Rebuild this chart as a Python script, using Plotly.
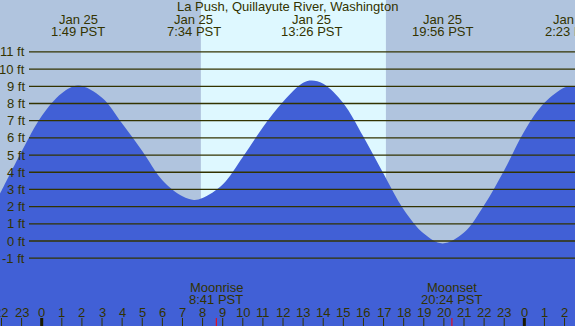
import plotly.graph_objects as go

# ---------------- data ----------------
title = "La Push, Quillayute River, Washington"
date_label = "Jan 25"

# tide curve: hours from midnight Jan 25, height in ft
tide_hours = [-2.074, -2, -1, 0, 1, 1.817, 3, 4, 5, 6, 7, 7.567, 8, 9, 10, 11, 12, 13,
              13.433, 14, 15, 16, 17, 18, 19, 19.933, 21, 22, 23, 24, 25, 26, 26.383, 26.52]
tide_feet = [2.77, 2.92, 5.2, 7.27, 8.6, 9.05, 8.34, 6.83, 5.24, 3.54, 2.6, 2.39, 2.5, 3.29,
             4.89, 6.62, 8.10, 9.2, 9.33, 9.15, 8.02, 6.07, 3.91, 1.83, 0.43, -0.14, 0.49,
             2.08, 4.12, 6.39, 8.04, 8.93, 9.02, 9.01]

extreme_labels = ["1:49 PST", "7:34 PST", "13:26 PST", "19:56 PST", "2:23 PST"]
extreme_hours = [1 + 49/60, 7 + 34/60, 13 + 26/60, 19 + 56/60, 24 + 2 + 23/60]

sun_hours = [7 + 55/60, 17 + 7/60]          # sunrise, sunset
moon_names = ["Moonrise", "Moonset"]
moon_labels = ["8:41 PST", "20:24 PST"]
moon_hours = [8 + 41/60, 20 + 24/60]

grid_feet = list(range(-1, 12))
hour_ticks = list(range(-2, 27))
hour_tick_labels = [str(h % 24) for h in hour_ticks]
midnight_ticks = [0, 24]

x_range = [-2.074, 26.52]
y_range = [-4.945, 14.02]

# ---------------- style ----------------
W, H = 575, 326
night = "#B0C4DE"
day = "#DEF8FF"
water = "#4160D6"
ink = "#333300"
font = dict(family="Liberation Sans, Arial, sans-serif", size=13, color=ink)

def py(p):
    return 1 - p / H

fig = go.Figure()
fig.add_trace(go.Scatter(x=[tide_hours[0], tide_hours[-1]], y=[y_range[0] - 5] * 2,
                         mode="lines", line=dict(width=0), hoverinfo="skip",
                         showlegend=False))
fig.add_trace(go.Scatter(x=tide_hours, y=tide_feet, mode="lines",
                         line=dict(width=0, shape="spline", smoothing=1.0),
                         fill="tonexty", fillcolor=water, hoverinfo="skip",
                         showlegend=False))

shapes = []
shapes.append(dict(type="rect", xref="x", yref="paper", x0=sun_hours[0], x1=sun_hours[1],
                   y0=0, y1=1, fillcolor=day, line=dict(width=0), layer="below"))
for ft in grid_feet:
    shapes.append(dict(type="line", xref="paper", yref="y", x0=29 / W, x1=1, y0=ft, y1=ft,
                       line=dict(color=ink, width=1.3), layer="above"))
for h in hour_ticks:
    if h in midnight_ticks:
        continue
    shapes.append(dict(type="line", xref="x", yref="paper", x0=h, x1=h, y0=0, y1=8 / H,
                       line=dict(color=ink, width=1), layer="above"))
for h in midnight_ticks:
    shapes.append(dict(type="line", xref="x", yref="paper", x0=h, x1=h, y0=0, y1=8 / H,
                       line=dict(color="#1a1a00", width=3), layer="above"))
for h in moon_hours:
    shapes.append(dict(type="line", xref="x", yref="paper", x0=h, x1=h, y0=0, y1=8 / H,
                       line=dict(color="#ff0000", width=1), layer="above"))

ann = []
ann.append(dict(text=title, xref="paper", yref="paper", x=0.5, y=py(7), showarrow=False,
                xanchor="center", yanchor="middle", font=font))
for h, lab in zip(extreme_hours, extreme_labels):
    ann.append(dict(text=date_label, xref="x", yref="paper", x=h, y=py(19.5), showarrow=False,
                    xanchor="center", yanchor="middle", font=font))
    ann.append(dict(text=lab, xref="x", yref="paper", x=h, y=py(31.5), showarrow=False,
                    xanchor="center", yanchor="middle", font=font))
for ft in grid_feet:
    ann.append(dict(text=f"{ft} ft", xref="paper", yref="y", x=27 / W, y=ft, showarrow=False,
                    xanchor="right", yanchor="middle", font=font))
for h, lab in zip(hour_ticks, hour_tick_labels):
    ann.append(dict(text=lab, xref="x", yref="paper", x=h, y=py(312), showarrow=False,
                    xanchor="center", yanchor="middle", font=font))
for h, name, lab in zip(moon_hours, moon_names, moon_labels):
    ann.append(dict(text=name, xref="x", yref="paper", x=h, y=py(287.5), showarrow=False,
                    xanchor="center", yanchor="middle", font=font))
    ann.append(dict(text=lab, xref="x", yref="paper", x=h, y=py(299.5), showarrow=False,
                    xanchor="center", yanchor="middle", font=font))

fig.update_layout(
    width=W, height=H, autosize=False,
    margin=dict(l=0, r=0, t=0, b=0, pad=0),
    paper_bgcolor=night, plot_bgcolor=night,
    xaxis=dict(range=x_range, visible=False, fixedrange=True),
    yaxis=dict(range=y_range, visible=False, fixedrange=True),
    shapes=shapes, annotations=ann, showlegend=False,
)

fig.write_html("out.html", config={"displayModeBar": False, "staticPlot": True},
               post_script="document.body.style.margin='0';")
